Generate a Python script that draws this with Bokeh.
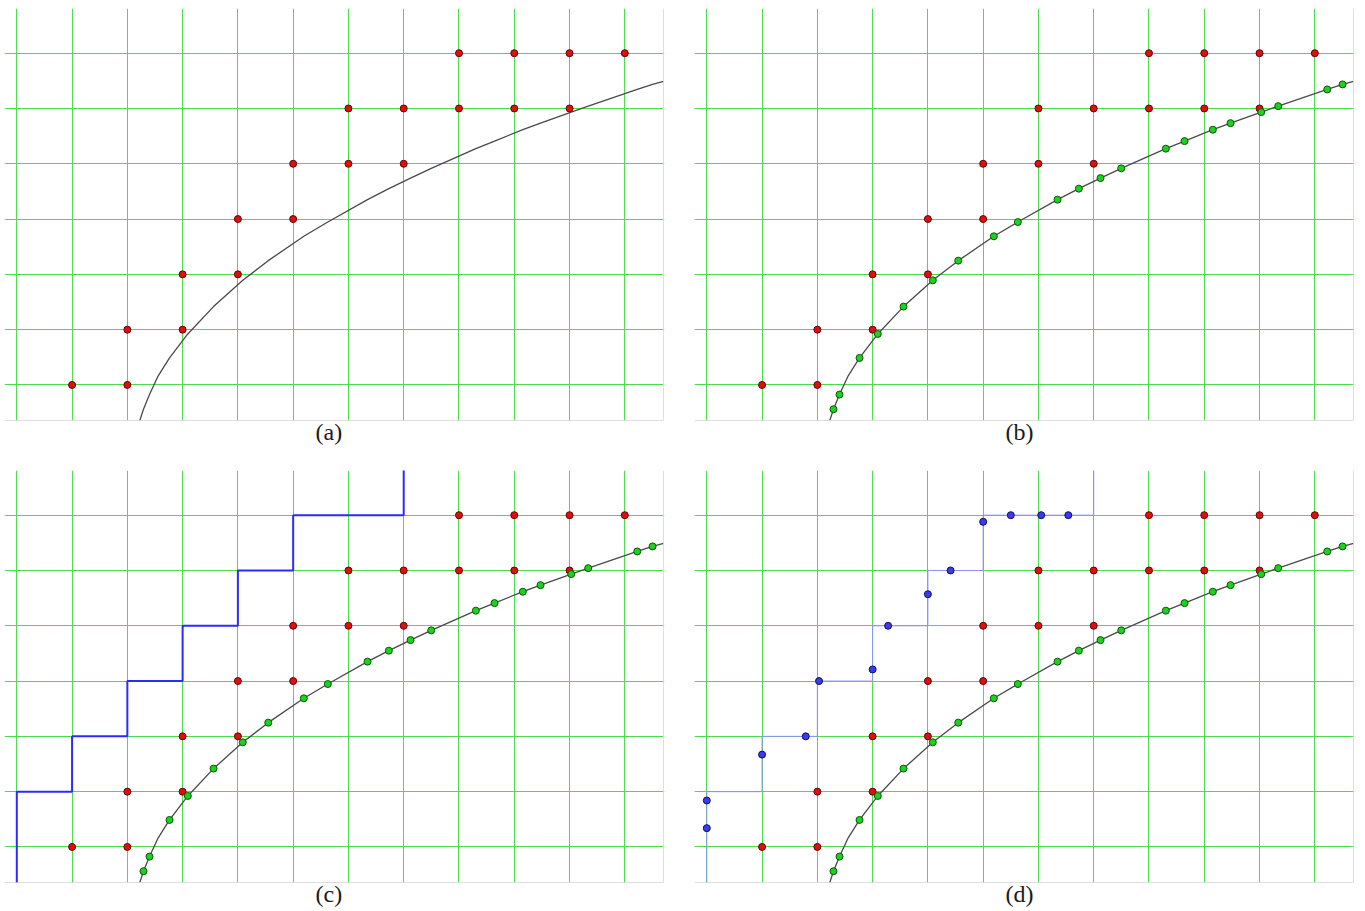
from bokeh.plotting import figure
from bokeh.layouts import gridplot
from bokeh.models import Span, Title, FixedTicker, Range1d
from bokeh.embed import file_html
from bokeh.resources import INLINE

# ---------------- data ----------------
grid_x = [0, 1, 2, 3, 4, 5, 6, 7, 8, 9, 10, 11]
grid_y = [1, 2, 3, 4, 5, 6, 7]

red_x = [1, 2, 2, 3, 3, 4, 4, 5, 5, 6, 7, 6, 7, 8, 9, 10, 8, 9, 10, 11]
red_y = [1, 1, 2, 2, 3, 3, 4, 4, 5, 5, 5, 6, 6, 6, 6, 6, 7, 7, 7, 7]

curve_x = [2.225, 2.292, 2.401, 2.55, 2.763, 3.094, 3.559, 4.089, 4.549, 5.193, 5.627,
           6.345, 6.731, 7.123, 7.498, 8.305, 8.643, 9.155, 9.475, 10.031, 10.338,
           11.225, 11.502, 11.70]
curve_y = [0.357, 0.561, 0.826, 1.15, 1.488, 1.922, 2.417, 2.892, 3.248, 3.688, 3.946,
           4.351, 4.550, 4.741, 4.917, 5.273, 5.410, 5.616, 5.735, 5.934, 6.042,
           6.344, 6.435, 6.49]

green_x = [2.292, 2.401, 2.763, 3.094, 3.559, 4.089, 4.549, 5.193, 5.627, 6.345, 6.731,
           7.123, 7.498, 8.305, 8.643, 9.155, 9.475, 10.031, 10.338, 11.225, 11.502]
green_y = [0.561, 0.826, 1.488, 1.922, 2.417, 2.892, 3.248, 3.688, 3.946, 4.351, 4.550,
           4.741, 4.917, 5.273, 5.410, 5.616, 5.735, 5.934, 6.042, 6.344, 6.435]

stair_x = [0, 0, 1, 1, 2, 2, 3, 3, 4, 4, 5, 5, 7, 7]
stair_y = [0, 2, 2, 3, 3, 4, 4, 5, 5, 6, 6, 7, 7, 9]

blue_x = [0, 0, 1.0, 1.79, 2.03, 3.0, 3.28, 4.0, 4.41, 5.0, 5.5, 6.05, 6.54]
blue_y = [1.34, 1.84, 2.67, 3.0, 4.0, 4.21, 5.0, 5.57, 6.0, 6.88, 7.0, 7.0, 7.0]

labels = ["(a)", "(b)", "(c)", "(d)"]

# ---------------- geometry ----------------
X0, X1 = -0.2225, 11.70
Y0, Y1 = 0.357, 7.808
FW, FH = 659, 412
cols = [dict(bl=4, br=27), dict(bl=4, br=2)]
rows = [dict(bt=8, bb=42), dict(bt=8, bb=27)]


def panel(ci, ri, k):
    c, r = cols[ci], rows[ri]
    p = figure(width=c["bl"] + FW + c["br"], height=r["bt"] + FH + r["bb"],
               x_range=Range1d(X0, X1), y_range=Range1d(Y0, Y1),
               x_axis_location=None, y_axis_location=None,
               toolbar_location=None, output_backend="svg",
               min_border_left=c["bl"], min_border_top=r["bt"],
               min_border_right=c["br"], min_border_bottom=r["bb"])
    p.outline_line_color = None
    p.background_fill_color = "white"
    p.border_fill_color = "white"
    p.xgrid.ticker = FixedTicker(ticks=grid_x)
    p.ygrid.ticker = FixedTicker(ticks=grid_y)
    for g in (p.xgrid, p.ygrid):
        g.grid_line_color = "#4fdb4f"
        g.grid_line_width = 1
    p.add_layout(Span(location=Y0, dimension="width", line_color="#bdbdbd", line_width=1))
    p.add_layout(Span(location=X1, dimension="height", line_color="#bdbdbd", line_width=1))

    if k == 2:
        p.line(stair_x, stair_y, line_color="#2b2bff", line_width=2)
    if k == 3:
        p.line(stair_x, stair_y, line_color="#9090ff", line_width=1)

    p.line(curve_x, curve_y, line_color="#4a4a4a", line_width=1.3)
    p.scatter(red_x, red_y, size=7, fill_color="#dd1010", line_color="#6a0000", line_width=1)
    if k >= 1:
        p.scatter(green_x, green_y, size=7, fill_color="#1fd01f", line_color="#045a04", line_width=1)
    if k == 3:
        p.scatter(blue_x, blue_y, size=7, fill_color="#3a3af0", line_color="#10105a", line_width=1)

    t = Title(text=labels[k], align="left", text_font="Liberation Serif",
              text_font_size="24px", text_font_style="normal", text_color="#1a1a1a",
              offset=311, standoff=-3, vertical_align="top")
    p.add_layout(t, "below")
    return p


figs = [[panel(0, 0, 0), panel(1, 0, 1)], [panel(0, 1, 2), panel(1, 1, 3)]]
layout = gridplot(figs, toolbar_location=None)

open("out.html", "w").write(file_html(layout, INLINE))
